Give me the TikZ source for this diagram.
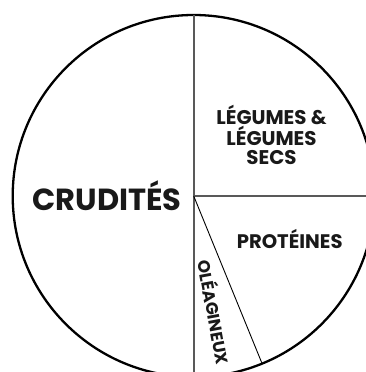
\documentclass[tikz,border=0pt]{standalone}
\usepackage{fontspec}
\setmainfont{Poppins}
\usetikzlibrary{calc}
\begin{document}
\begin{tikzpicture}[x=1pt,y=1pt,
  rim/.style={draw=black,line width=2.3pt},
  divider/.style={draw=black!65,line width=1.6pt},
  thin/.style={draw=black,line width=0.9pt},
  lbl/.style={font=\bfseries,text=black!90,inner sep=0pt,align=center}]
\useasboundingbox (0,0) rectangle (366,372);
\clip (0,0) rectangle (366,372);
\coordinate (O) at (193.7,176);
\coordinate (T) at ($(O)+(90:181)$);
\coordinate (B) at ($(O)+(-90:181)$);
\coordinate (R) at ($(O)+(0:181)$);
\coordinate (D) at ($(O)+(-67.8:181)$);
\draw[rim] (O) circle (181);
\draw[divider] (T) -- (B);
\draw[divider] (O) -- (R);
\draw[thin] (O) -- (D);
\node[lbl,font=\bfseries\fontsize{30.5}{31}\selectfont] (cru) at (107,176) {CRUDITÉS};
\node[lbl,font=\bfseries\fontsize{19.8}{19.5}\selectfont] (leg) at (271.5,237) {LÉGUMES \&\\LÉGUMES\\SECS};
\node[lbl,font=\bfseries\fontsize{19.6}{19}\selectfont] (pro) at (289.7,133) {PROTÉINES};
\node[lbl,font=\bfseries\fontsize{16.8}{17}\selectfont,rotate=-79.5] (ole) at (215,60) {OLÉAGINEUX};
\end{tikzpicture}
\end{document}
